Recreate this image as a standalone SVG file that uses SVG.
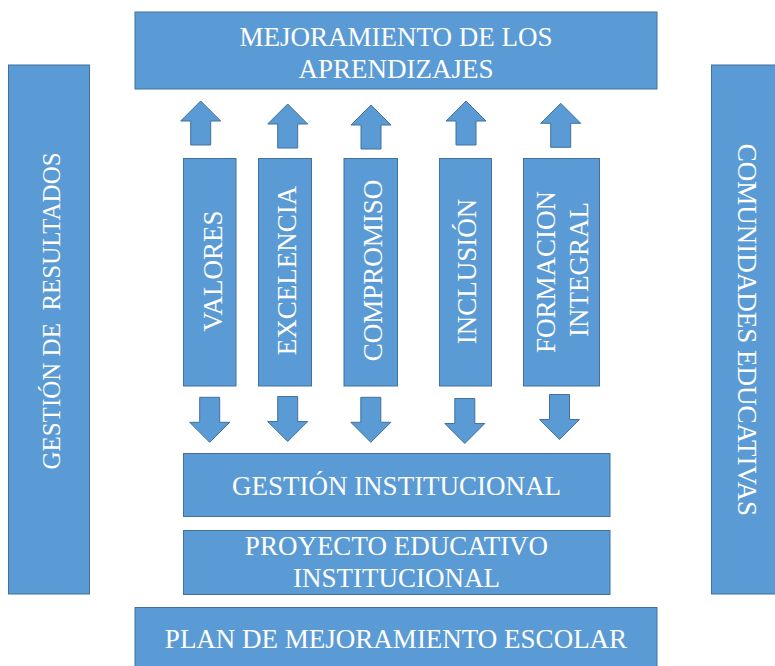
<svg xmlns="http://www.w3.org/2000/svg" xmlns:xlink="http://www.w3.org/1999/xlink" width="775" height="666" viewBox="0 0 775 666">
  <style>
    .box { fill: #5B9BD5; stroke: #41719C; stroke-width: 1; }
    .arr { fill: #5B9BD5; stroke: #41719C; stroke-width: 1; }
    .t { font-family: "Liberation Serif", "Times New Roman", serif; font-size: 27px; fill: #FFFFFF; text-anchor: middle; }
  </style>
  <defs>
    <path id="up" d="M0,0 L20,20 L10,20 L10,44 L-10,44 L-10,20 L-20,20 Z"/>
    <path id="down" d="M-10,0 L10,0 L10,25 L20,25 L0,45 L-20,25 L-10,25 Z"/>
  </defs>
  <rect width="775" height="666" fill="#FFFFFF"/>

  <g id="mejoramiento">
    <rect class="box" x="135" y="12" width="522" height="77"/>
    <text class="t" x="396" y="45.5">MEJORAMIENTO DE LOS</text>
    <text class="t" x="396" y="77.5">APRENDIZAJES</text>
  </g>

  <g id="gestion-resultados">
    <rect class="box" x="8.5" y="65" width="81" height="529"/>
    <text class="t" style="font-size:25px" transform="translate(59.5,311) rotate(-90)" xml:space="preserve">GESTIÓN DE  RESULTADOS</text>
  </g>

  <g id="comunidades">
    <rect class="box" x="711.5" y="65" width="70" height="529"/>
    <text class="t" transform="translate(737.5,330) rotate(90)">COMUNIDADES EDUCATIVAS</text>
  </g>

  <g id="valores">
    <rect class="box" x="183.5" y="158.5" width="52.5" height="227.5"/>
    <text class="t" transform="translate(221.5,271) rotate(-90)">VALORES</text>
  </g>
  <g id="excelencia">
    <rect class="box" x="258.5" y="158.5" width="53" height="227.5"/>
    <text class="t" transform="translate(296,270.5) rotate(-90)">EXCELENCIA</text>
  </g>
  <g id="compromiso">
    <rect class="box" x="344" y="158.5" width="53.5" height="227.5"/>
    <text class="t" transform="translate(381.5,270.5) rotate(-90)">COMPROMISO</text>
  </g>
  <g id="inclusion">
    <rect class="box" x="439.5" y="158.5" width="52" height="227.5"/>
    <text class="t" transform="translate(475.5,271.5) rotate(-90)">INCLUSIÓN</text>
  </g>
  <g id="formacion">
    <rect class="box" x="523.5" y="158.5" width="76" height="227.5"/>
    <text class="t" transform="translate(555,272) rotate(-90)">FORMACION</text>
    <text class="t" transform="translate(588,269.5) rotate(-90)">INTEGRAL</text>
  </g>

  <g id="gestion-institucional">
    <rect class="box" x="183.5" y="453.5" width="426.5" height="63"/>
    <text class="t" x="396.5" y="495">GESTIÓN INSTITUCIONAL</text>
  </g>
  <g id="proyecto">
    <rect class="box" x="183.5" y="530.5" width="426.5" height="64"/>
    <text class="t" x="396.5" y="555">PROYECTO EDUCATIVO</text>
    <text class="t" x="396.5" y="586.5">INSTITUCIONAL</text>
  </g>
  <g id="plan">
    <rect class="box" x="135" y="607.5" width="522" height="70"/>
    <text class="t" x="396" y="648">PLAN DE MEJORAMIENTO ESCOLAR</text>
  </g>

  <g id="connectors">
    <use class="arr" xlink:href="#up" x="200.7" y="101"/>
    <use class="arr" xlink:href="#up" x="287.7" y="104"/>
    <use class="arr" xlink:href="#up" x="371" y="105"/>
    <use class="arr" xlink:href="#up" x="466" y="101"/>
    <use class="arr" xlink:href="#up" x="560.7" y="103.3"/>
    <use class="arr" xlink:href="#down" x="209.7" y="397.3"/>
    <use class="arr" xlink:href="#down" x="287.7" y="396.5"/>
    <use class="arr" xlink:href="#down" x="370.8" y="397.3"/>
    <use class="arr" xlink:href="#down" x="464.8" y="398.5"/>
    <use class="arr" xlink:href="#down" x="559.5" y="394.5"/>
  </g>
</svg>
